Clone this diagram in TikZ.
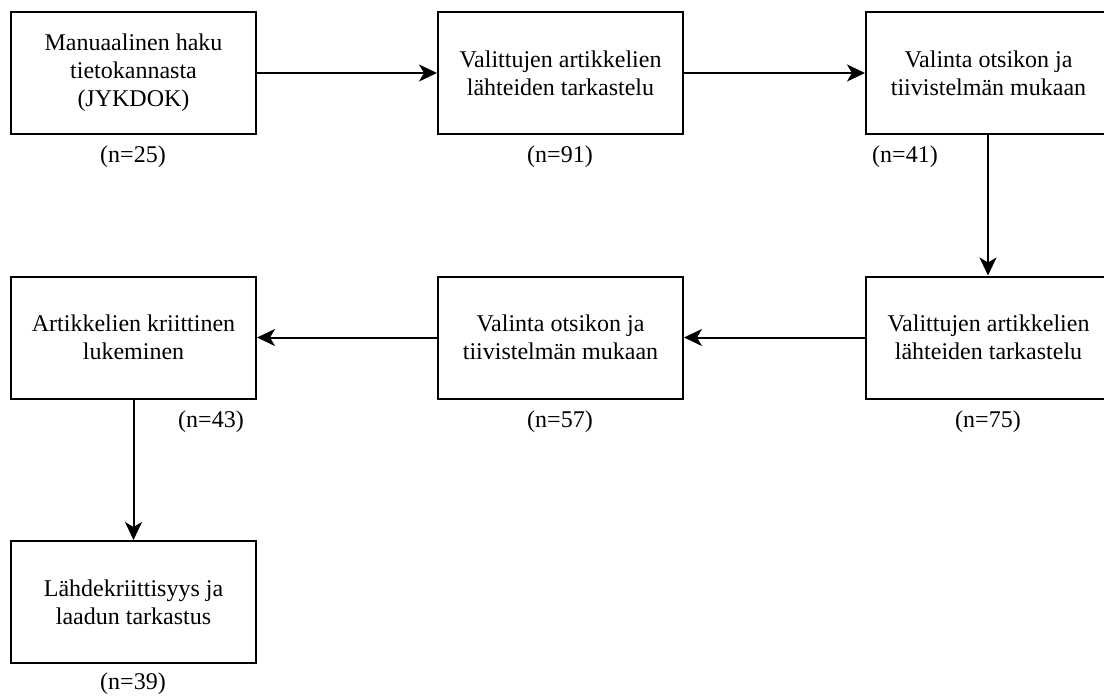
\documentclass[tikz,border=0pt]{standalone}
\usepackage{fontspec}
\setmainfont{Liberation Serif}
\usetikzlibrary{arrows.meta}
\begin{document}
\begin{tikzpicture}[x=1pt,y=-1pt,
 txt/.style={font=\fontsize{24}{28}\selectfont},
 box/.style={txt,draw,line width=2pt,minimum width=245pt,minimum height=122pt,align=center,inner sep=0pt},
 lbl/.style={txt,inner sep=0pt},
 arr/.style={line width=2pt,-{Stealth[length=18pt,width=17pt,inset=5pt]}}]
\useasboundingbox (0,0) rectangle (1104,697);
\clip (0,0) rectangle (1104,697);
\node[box] (b1) at (133.5,73) {Manuaalinen haku\\tietokannasta\\(JYKDOK)};
\node[box] (b2) at (560.5,73) {Valittujen artikkelien\\lähteiden tarkastelu};
\node[box] (b3) at (988.5,73) {Valinta otsikon ja\\tiivistelmän mukaan};
\node[box] (b6) at (988.5,337.5) {Valittujen artikkelien\\lähteiden tarkastelu};
\node[box] (b5) at (560.5,337.5) {Valinta otsikon ja\\tiivistelmän mukaan};
\node[box] (b4) at (133.5,337.5) {Artikkelien kriittinen\\lukeminen};
\node[box] (b7) at (133.5,602) {Lähdekriittisyys ja\\laadun tarkastus};
\node[lbl] (n1) at (133,157) {(n=25)};
\node[lbl] (n2) at (560,157) {(n=91)};
\node[lbl] (n3) at (905,157) {(n=41)};
\node[lbl] (n6) at (988,422) {(n=75)};
\node[lbl] (n5) at (560,422) {(n=57)};
\node[lbl] (n4) at (211,422) {(n=43)};
\node[lbl] (n7) at (133,684) {(n=39)};
\draw[arr] (b1) -- (b2);
\draw[arr] (b2) -- (b3);
\draw[arr] (b3.south -| 988,0) -- (b6.north -| 988,0);
\draw[arr] (b6) -- (b5);
\draw[arr] (b5) -- (b4);
\draw[arr] (b4) -- (b7);
\end{tikzpicture}
\end{document}
